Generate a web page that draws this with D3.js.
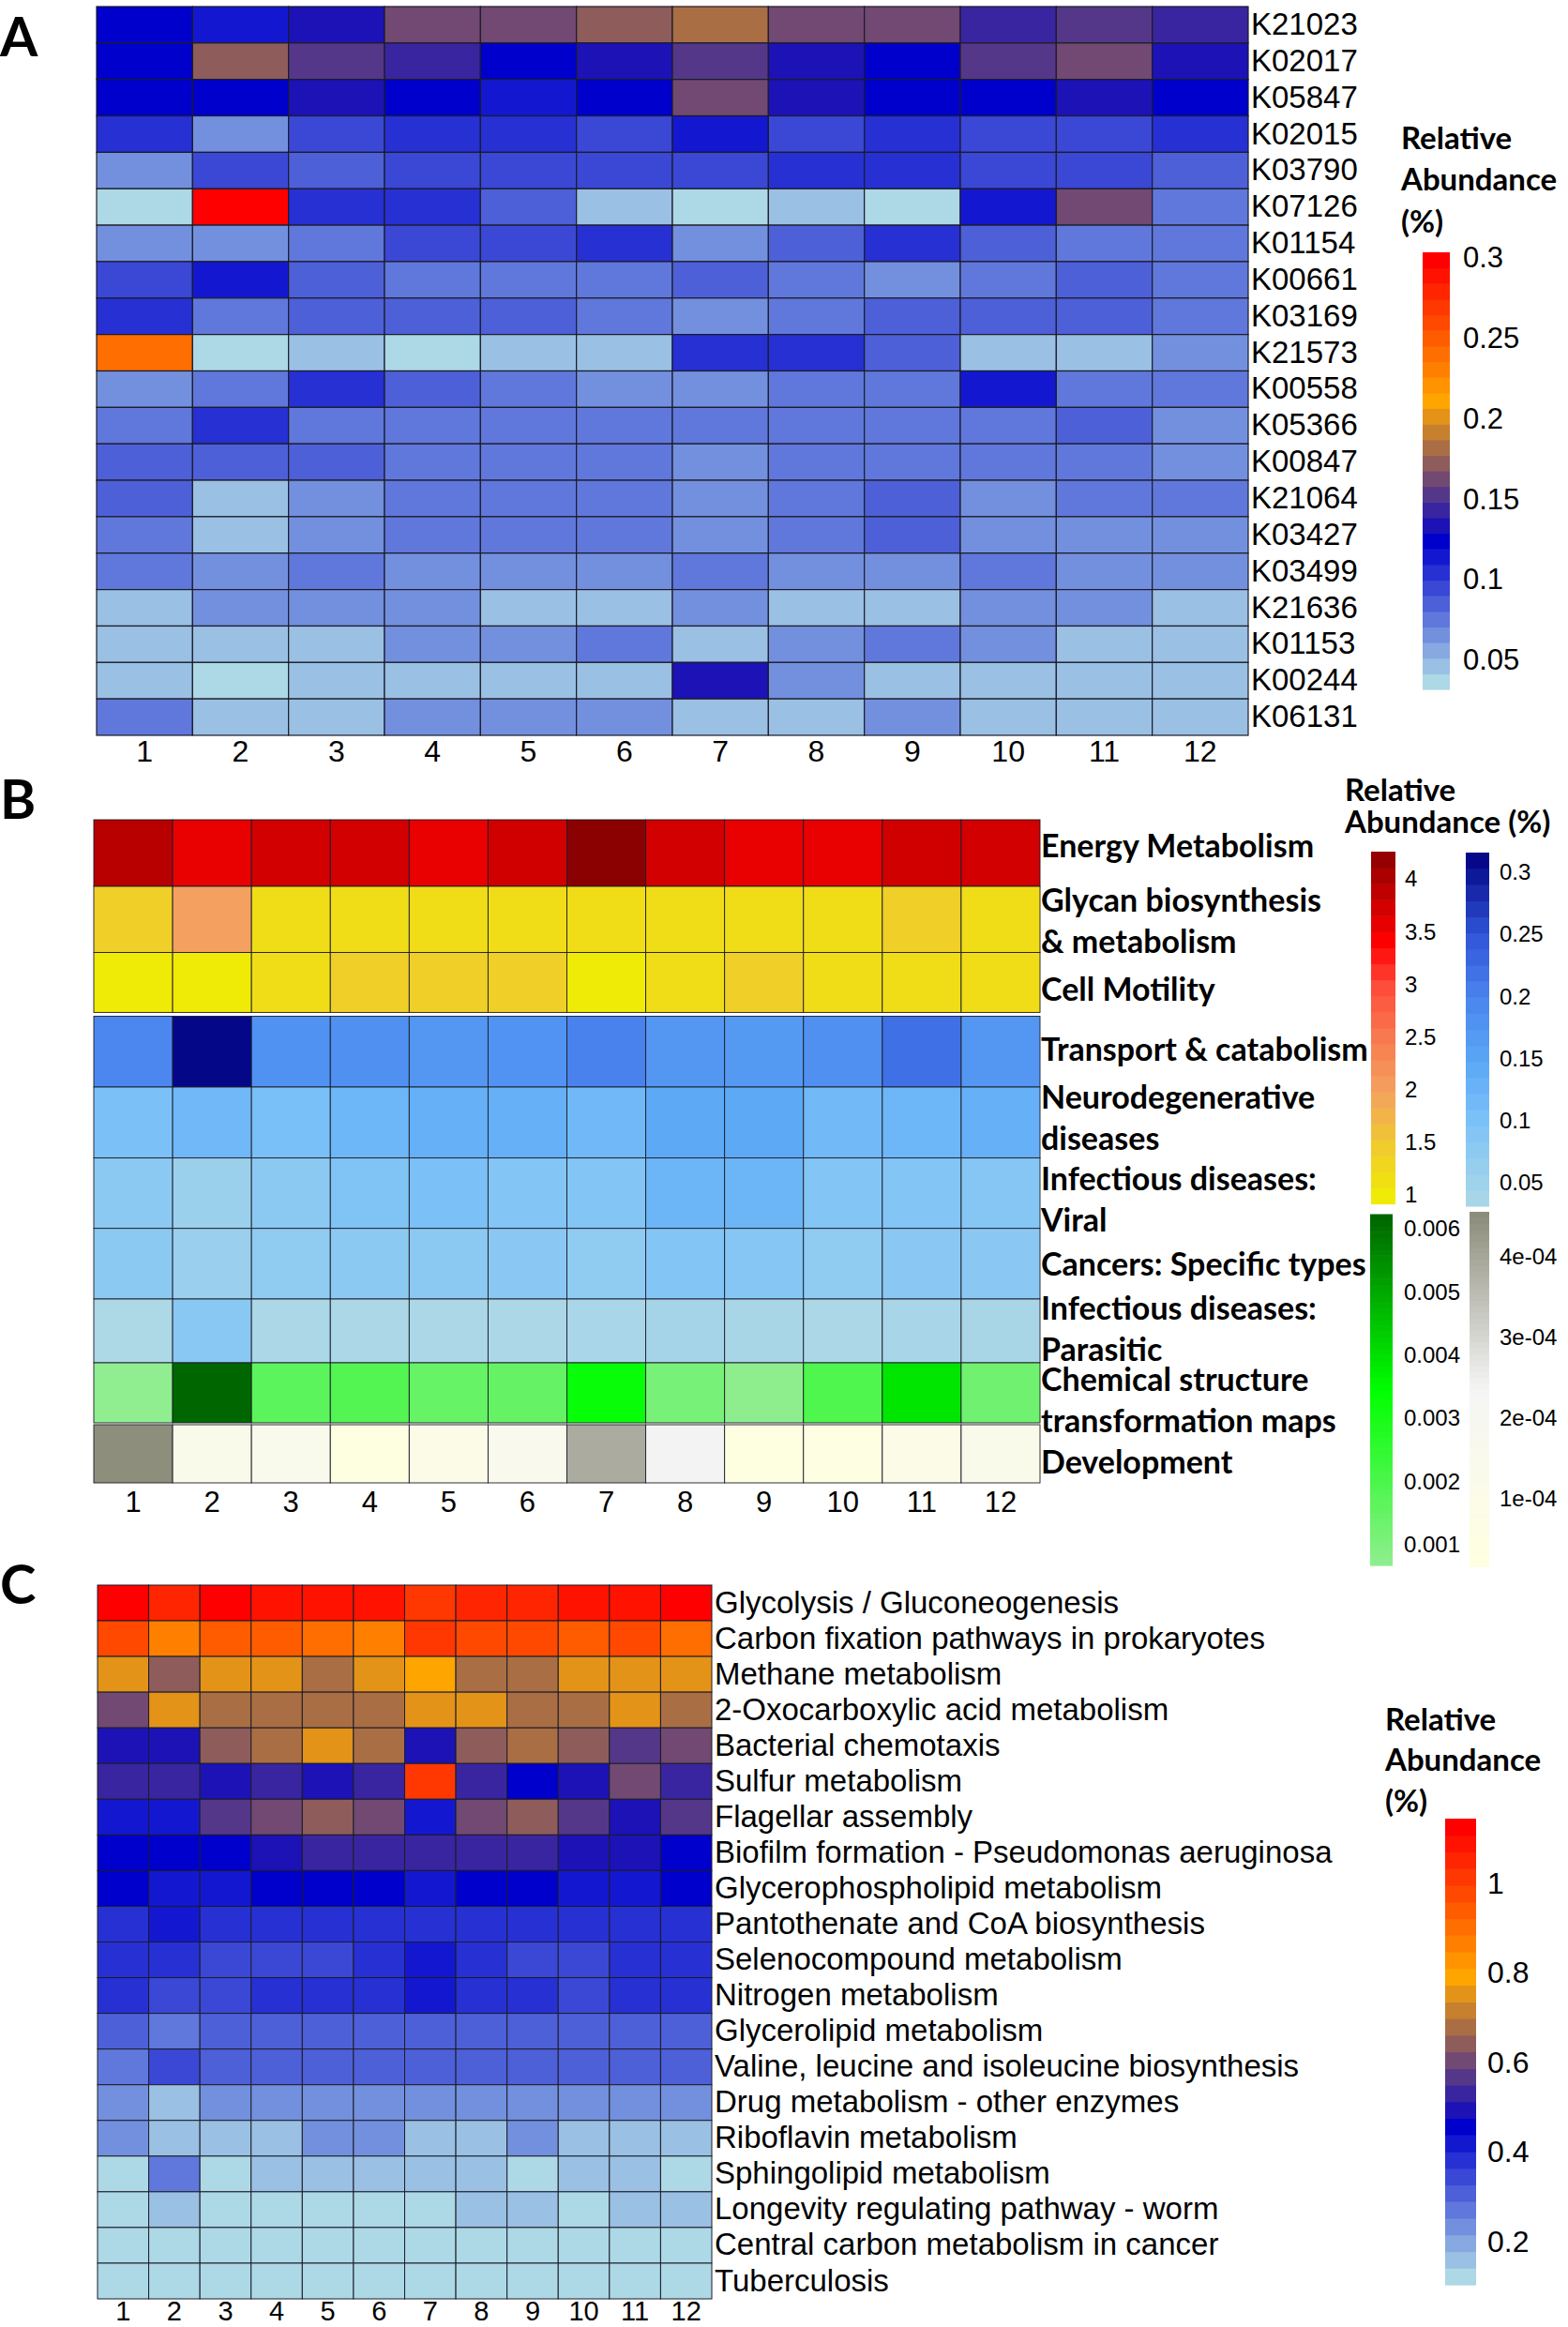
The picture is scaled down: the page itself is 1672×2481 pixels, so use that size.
<!DOCTYPE html>
<html>
<head>
<meta charset="utf-8">
<script src="https://cdn.jsdelivr.net/npm/d3@7"></script>
<style>
  body { margin: 0; background: #fff; }
  svg { display: block; }
</style>
</head>
<body>
<svg id="fig" width="1672" height="2481"></svg>
<script>
// ---------- data ----------
const samples = ["1","2","3","4","5","6","7","8","9","10","11","12"];

// panel A : KO relative abundance (%)
const koIds = ["K21023","K02017","K05847","K02015","K03790","K07126","K01154","K00661","K03169","K21573",
               "K00558","K05366","K00847","K21064","K03427","K03499","K21636","K01153","K00244","K06131"];
const koVals = [
  [0.121,0.111,0.132,0.165,0.165,0.176,0.186,0.165,0.165,0.143,0.154,0.143],
  [0.121,0.176,0.154,0.143,0.121,0.132,0.154,0.132,0.121,0.154,0.165,0.132],
  [0.121,0.121,0.132,0.121,0.111,0.121,0.165,0.132,0.121,0.121,0.132,0.121],
  [0.102,0.062,0.092,0.102,0.102,0.092,0.111,0.092,0.102,0.092,0.092,0.102],
  [0.062,0.092,0.083,0.092,0.092,0.092,0.092,0.102,0.102,0.092,0.092,0.083],
  [0.032,0.303,0.102,0.102,0.083,0.051,0.032,0.043,0.032,0.111,0.165,0.073],
  [0.062,0.062,0.073,0.092,0.092,0.102,0.062,0.083,0.102,0.083,0.073,0.073],
  [0.092,0.111,0.083,0.073,0.073,0.073,0.083,0.073,0.062,0.073,0.083,0.073],
  [0.102,0.073,0.083,0.083,0.083,0.073,0.062,0.073,0.083,0.083,0.083,0.073],
  [0.243,0.032,0.051,0.032,0.043,0.051,0.102,0.102,0.083,0.043,0.043,0.062],
  [0.062,0.073,0.102,0.083,0.073,0.062,0.062,0.073,0.073,0.111,0.073,0.073],
  [0.073,0.102,0.073,0.073,0.073,0.073,0.073,0.073,0.073,0.073,0.083,0.062],
  [0.083,0.083,0.083,0.073,0.073,0.073,0.062,0.073,0.073,0.073,0.073,0.062],
  [0.083,0.051,0.062,0.073,0.073,0.073,0.062,0.073,0.083,0.062,0.073,0.073],
  [0.073,0.043,0.062,0.073,0.073,0.073,0.062,0.073,0.083,0.062,0.062,0.062],
  [0.073,0.062,0.073,0.062,0.062,0.062,0.073,0.062,0.062,0.073,0.062,0.062],
  [0.051,0.062,0.062,0.062,0.051,0.051,0.062,0.051,0.051,0.062,0.062,0.051],
  [0.043,0.043,0.051,0.062,0.062,0.073,0.043,0.062,0.073,0.062,0.051,0.051],
  [0.051,0.032,0.043,0.051,0.043,0.051,0.132,0.062,0.051,0.051,0.051,0.043],
  [0.073,0.051,0.051,0.062,0.062,0.062,0.043,0.051,0.062,0.051,0.051,0.051]
];
const koTicks = [0.05,0.1,0.15,0.2,0.25,0.3];

// panel B : KEGG level 2, four blocks with their own scales
const bRedLabels = [["Energy Metabolism"],["Glycan biosynthesis","& metabolism"],["Cell Motility"]];
const bRedVals = [
  [3.93,3.56,3.73,3.73,3.56,3.75,4.26,3.73,3.56,3.56,3.74,3.73],
  [1.4,2.0,1.2,1.2,1.2,1.2,1.2,1.2,1.2,1.2,1.4,1.2],
  [1.0,1.0,1.2,1.4,1.4,1.4,1.0,1.2,1.4,1.2,1.2,1.2]
];
const bBlueLabels = [["Transport & catabolism"],["Neurodegenerative","diseases"],["Infectious diseases:","Viral"],
                     ["Cancers: Specific types"],["Infectious diseases:","Parasitic"]];
const bBlueVals = [
  [0.195,0.31,0.18,0.183,0.172,0.178,0.202,0.172,0.168,0.183,0.221,0.172],
  [0.102,0.118,0.104,0.122,0.132,0.132,0.118,0.145,0.145,0.116,0.122,0.132],
  [0.078,0.056,0.078,0.094,0.102,0.09,0.09,0.124,0.124,0.09,0.09,0.088],
  [0.077,0.058,0.072,0.077,0.077,0.08,0.072,0.09,0.088,0.072,0.08,0.08],
  [0.031,0.082,0.034,0.034,0.034,0.034,0.037,0.042,0.036,0.034,0.038,0.036]
];
const bGreenLabels = [["Chemical structure","transformation maps"]];
const bGreenVals = [[0.00067,0.0062,0.00167,0.00187,0.00148,0.0015,0.0033,0.00114,0.0007,0.00195,0.0039,0.00128]];
const bGreyLabels = [["Development"]];
const bGreyVals = [[4.5e-4,1.3e-4,1.4e-4,0.3e-4,1.0e-4,1.5e-4,3.9e-4,2.4e-4,0.3e-4,0.4e-4,1.0e-4,1.3e-4]];
const redTicks = [1,1.5,2,2.5,3,3.5,4];
const blueTicks = [0.05,0.1,0.15,0.2,0.25,0.3];
const greenTicks = [0.001,0.002,0.003,0.004,0.005,0.006];
const greyTicks = [1e-4,2e-4,3e-4,4e-4];

// panel C : pathways
const pathways = ["Glycolysis / Gluconeogenesis","Carbon fixation pathways in prokaryotes","Methane metabolism",
  "2-Oxocarboxylic acid metabolism","Bacterial chemotaxis","Sulfur metabolism","Flagellar assembly",
  "Biofilm formation - Pseudomonas aeruginosa","Glycerophospholipid metabolism","Pantothenate and CoA biosynthesis",
  "Selenocompound metabolism","Nitrogen metabolism","Glycerolipid metabolism","Valine, leucine and isoleucine biosynthesis",
  "Drug metabolism - other enzymes","Riboflavin metabolism","Sphingolipid metabolism","Longevity regulating pathway - worm",
  "Central carbon metabolism in cancer","Tuberculosis"];
const pathVals = [
  [1.145,1.051,1.124,1.093,1.093,1.093,1.01,1.051,1.051,1.093,1.093,1.124],
  [0.968,0.864,0.94,0.94,0.916,0.864,1.01,0.968,0.968,0.94,0.968,0.916],
  [0.77,0.656,0.739,0.739,0.697,0.739,0.801,0.697,0.697,0.739,0.739,0.739],
  [0.614,0.77,0.697,0.697,0.697,0.697,0.739,0.739,0.697,0.697,0.739,0.697],
  [0.489,0.489,0.656,0.697,0.739,0.697,0.489,0.656,0.697,0.656,0.572,0.614],
  [0.531,0.531,0.489,0.531,0.489,0.531,1.01,0.531,0.448,0.489,0.614,0.531],
  [0.406,0.406,0.572,0.614,0.656,0.614,0.406,0.614,0.656,0.572,0.489,0.572],
  [0.448,0.448,0.448,0.489,0.531,0.531,0.531,0.531,0.531,0.489,0.489,0.448],
  [0.448,0.406,0.406,0.448,0.448,0.448,0.406,0.448,0.448,0.406,0.406,0.448],
  [0.375,0.406,0.375,0.375,0.375,0.375,0.375,0.375,0.375,0.375,0.375,0.375],
  [0.375,0.375,0.333,0.333,0.333,0.375,0.406,0.375,0.333,0.333,0.375,0.375],
  [0.375,0.333,0.333,0.375,0.375,0.375,0.406,0.375,0.375,0.333,0.375,0.375],
  [0.302,0.26,0.302,0.302,0.302,0.302,0.302,0.302,0.302,0.302,0.302,0.302],
  [0.26,0.333,0.302,0.302,0.302,0.302,0.302,0.302,0.302,0.302,0.302,0.302],
  [0.219,0.177,0.219,0.219,0.219,0.219,0.219,0.219,0.219,0.219,0.219,0.219],
  [0.219,0.177,0.177,0.177,0.219,0.219,0.177,0.177,0.219,0.177,0.177,0.177],
  [0.104,0.26,0.104,0.146,0.146,0.146,0.146,0.146,0.104,0.146,0.146,0.104],
  [0.104,0.146,0.104,0.104,0.104,0.104,0.104,0.146,0.146,0.104,0.146,0.146],
  [0.104,0.104,0.104,0.104,0.104,0.104,0.104,0.104,0.104,0.104,0.104,0.104],
  [0.104,0.104,0.104,0.104,0.104,0.104,0.104,0.104,0.104,0.104,0.104,0.104]
];
const pathTicks = [0.2,0.4,0.6,0.8,1];

// ---------- helpers ----------
const svg = d3.select("#fig");
const ARIAL = "'Liberation Sans', Arial, sans-serif";
const BOLD = "Lato, 'Open Sans', sans-serif";

// lightblue -> mediumblue -> orange -> red, cut into steps
function ramp(n) {
  const ip = d3.piecewise(d3.interpolateRgb, ["#ADD8E6","#0000CD","#FFA500","#FF0000"]);
  return d3.range(n).map(i => ip(i / (n - 1)));
}

// rows placed by yTop(rowId) / yH(rowId) so uneven row heights work too
function heat(g, rowIds, vals, x, yTop, yH, color, sw) {
  const cells = rowIds.flatMap((r, i) => vals[i].map((v, j) => ({r, c: samples[j], v})));
  g.selectAll(null).data(cells).join("rect")
    .attr("x", d => x(d.c)).attr("y", d => yTop(d.r))
    .attr("width", x.bandwidth()).attr("height", d => yH(d.r))
    .attr("fill", d => color(d.v))
    .attr("stroke", "#1c1c28").attr("stroke-width", sw);
}

function bottomAxis(g, x, y0, pad, size) {
  g.append("g").attr("transform", `translate(0,${y0})`)
    .call(d3.axisBottom(x).tickSize(0).tickPadding(pad))
    .call(a => a.select(".domain").remove())
    .attr("font-family", ARIAL).attr("font-size", size);
}

function legend(g, o) {
  const s = d3.scaleLinear().domain(o.domain).range([o.bottom, o.top]);
  const h = (o.bottom - o.top) / o.n;
  g.append("g").selectAll(null).data(d3.range(o.n)).join("rect")
    .attr("x", o.x).attr("width", o.w)
    .attr("y", i => o.bottom - (i + 1) * h).attr("height", h + 0.6)
    .attr("fill", i => o.color(o.domain[0] + (i + 0.5) / o.n * (o.domain[1] - o.domain[0])));
  g.append("g").attr("transform", `translate(${o.x + o.w},0)`)
    .call(d3.axisRight(s).tickValues(o.ticks).tickSize(0).tickPadding(o.pad).tickFormat(o.fmt || (d => String(d))))
    .call(a => a.select(".domain").remove())
    .attr("font-family", ARIAL).attr("font-size", o.size);
}

function title(g, x, lines, ys) {
  g.append("g").selectAll(null).data(lines).join("text")
    .attr("x", x).attr("y", (d, i) => ys[i]).attr("dy", "0.36em")
    .attr("font-family", BOLD).attr("font-weight", 700).attr("font-size", 33)
    .text(d => d);
}

function panelLetter(t, y) {
  svg.append("text").attr("x", 0).attr("y", y)
    .attr("font-family", BOLD).attr("font-weight", 700).attr("font-size", 58).text(t);
}

// ---------- panel A ----------
const gA = svg.append("g");
const xA = d3.scaleBand().domain(samples).range([103, 1331]);
const yA = d3.scaleBand().domain(koIds).range([7, 784]);
const colA = d3.scaleQuantize().domain([0.032, 0.303]).range(ramp(28));
heat(gA, koIds, koVals, xA, yA, () => yA.bandwidth(), colA, 1.2);
bottomAxis(gA, xA, 784, 5, 32);
gA.append("g").attr("transform", "translate(1331,0)")
  .call(d3.axisRight(yA).tickSize(0).tickPadding(3))
  .call(a => a.select(".domain").remove())
  .attr("font-family", ARIAL).attr("font-size", 33);
title(gA, 1494, ["Relative", "Abundance", "(%)"], [147, 191, 236]);
legend(gA, {x: 1517, w: 29, top: 269, bottom: 735, domain: [0.032, 0.303], color: colA, n: 28,
            ticks: koTicks, pad: 14, size: 31});
panelLetter("A", 60);

// ---------- panel B ----------
const gB = svg.append("g");
const xB = d3.scaleBand().domain(samples).range([100, 1109]);
const redB = d3.scaleLinear().domain([0.915, 1.5, 2, 2.5, 3, 3.4, 4.26])
  .range(["#F0F000","#F0C830","#F4A060","#F87A50","#FF4A3A","#FF0000","#8B0000"]).clamp(true);
const blueB = d3.scaleLinear().domain([0.031, 0.1, 0.15, 0.2, 0.25, 0.316])
  .range(["#ADD8E6","#7CC2F8","#5AA6F6","#4A84EE","#3055D8","#000080"]).clamp(true);
const greenB = d3.scaleLinear().domain([0.00067, 0.00345, 0.00623])
  .range(["#90EE90","#00FF00","#006400"]).clamp(true);
const greyB = d3.scaleLinear().domain([1.6e-5, 2.36e-4, 4.56e-4])
  .range(["#FFFFE0","#F5F5F5","#8B8B7A"]).clamp(true);

// row edges of each stacked block and small label nudges (layout)
const blocks = [
  {labels: bRedLabels, vals: bRedVals, color: redB, edges: [874, 945, 1015.5, 1079.4], nudge: [-8, 2, 7]},
  {labels: bBlueLabels, vals: bBlueVals, color: blueB, edges: [1083.5, 1159, 1234.6, 1309.7, 1385, 1453],
   nudge: [-2, -5, 7, 0, -2]},
  {labels: bGreenLabels, vals: bGreenVals, color: greenB, edges: [1453, 1517], nudge: [8]},
  {labels: bGreyLabels, vals: bGreyVals, color: greyB, edges: [1519, 1581], nudge: [9]}
];
blocks.forEach(b => {
  const ids = b.labels.map(l => l.join(" "));
  const top = d3.scaleOrdinal().domain(ids).range(b.edges.slice(0, -1));
  const hgt = d3.scaleOrdinal().domain(ids).range(d3.pairs(b.edges, (a, c) => c - a));
  heat(gB, ids, b.vals, xB, top, hgt, b.color, 0.9);
  gB.append("g").selectAll(null).data(b.labels).join("text")
    .attr("font-family", BOLD).attr("font-weight", 700).attr("font-size", 34)
    .each(function(l, i) {
      const cy = top(ids[i]) + hgt(ids[i]) / 2 + b.nudge[i];
      d3.select(this).selectAll("tspan").data(l).join("tspan")
        .attr("x", 1110).attr("y", (t, k) => cy + (k - (l.length - 1) / 2) * 44).attr("dy", "0.36em")
        .text(t => t);
    });
});
bottomAxis(gB, xB, 1581, 9, 31);
title(gB, 1434, ["Relative", "Abundance (%)"], [842, 876]);
legend(gB, {x: 1462, w: 26, top: 908, bottom: 1283.5, domain: [0.915, 4.26], color: redB, n: 22,
            ticks: redTicks, pad: 10, size: 24});
legend(gB, {x: 1563, w: 25, top: 909, bottom: 1286, domain: [0.031, 0.316], color: blueB, n: 22,
            ticks: blueTicks, pad: 11, size: 24});
legend(gB, {x: 1461, w: 24, top: 1294.5, bottom: 1669, domain: [0.00067, 0.00623], color: greenB, n: 60,
            ticks: greenTicks, pad: 12, size: 24});
legend(gB, {x: 1567, w: 21, top: 1292, bottom: 1670, domain: [1.6e-5, 4.56e-4], color: greyB, n: 60,
            ticks: greyTicks, pad: 11, size: 24,
            fmt: d => d.toExponential(0).replace(/e-(\d)$/, "e-0$1")});
panelLetter("B", 873);

// ---------- panel C ----------
const gC = svg.append("g");
const xC = d3.scaleBand().domain(samples).range([104, 759]);
const yC = d3.scaleBand().domain(pathways).range([1690, 2451]);
const colC = d3.scaleQuantize().domain([0.104, 1.145]).range(ramp(28));
heat(gC, pathways, pathVals, xC, yC, () => yC.bandwidth(), colC, 1);
bottomAxis(gC, xC, 2451, 2, 29);
gC.append("g").attr("transform", "translate(759,0)")
  .call(d3.axisRight(yC).tickSize(0).tickPadding(3))
  .call(a => a.select(".domain").remove())
  .attr("font-family", ARIAL).attr("font-size", 33);
title(gC, 1477, ["Relative", "Abundance", "(%)"], [1833, 1876, 1920]);
legend(gC, {x: 1541, w: 33, top: 1939, bottom: 2436, domain: [0.104, 1.145], color: colC, n: 28,
            ticks: pathTicks, pad: 12, size: 32});
panelLetter("C", 1710);
</script>
</body>
</html>
